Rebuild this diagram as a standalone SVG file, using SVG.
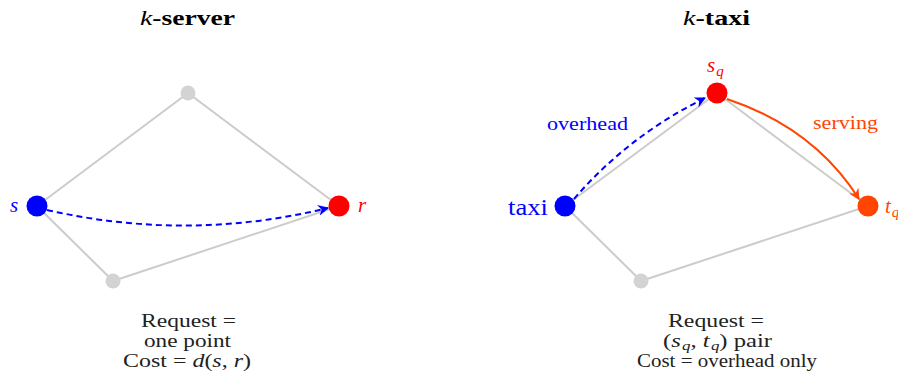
<svg xmlns="http://www.w3.org/2000/svg" width="898" height="372" viewBox="0 0 898 372">
  <style>
    .edge { stroke: #cccccc; stroke-width: 2; fill: none; }
    .ghost { fill: #d3d3d3; }
    .title { font-size: 21px; font-weight: bold; }
    .note { font-size: 19px; fill: #222; }
    .blue { fill: #0000ff; }
    .red { fill: #ff0000; }
    .orange { fill: #ff4500; }
    .dash { stroke: #0000ff; stroke-width: 2; stroke-dasharray: 6 4; fill: none; }
  </style>
  <defs>
    <marker id="arrBlue" viewBox="0 0 10 10" refX="9" refY="5" markerWidth="5.5" markerHeight="5.5" orient="auto" markerUnits="strokeWidth">
      <path d="M0,0 L10,5 L0,10 L3,5 Z" fill="#0000ff"/>
    </marker>
    <marker id="arrOrange" viewBox="0 0 10 10" refX="9" refY="5" markerWidth="5.5" markerHeight="5.5" orient="auto" markerUnits="strokeWidth">
      <path d="M0,0 L10,5 L0,10 L3,5 Z" fill="#ff4500"/>
    </marker>
  </defs>

  <g font-family="Liberation Serif, DejaVu Serif, serif">
  <!-- panel titles -->
  <text class="title" x="140" y="25" textLength="95" lengthAdjust="spacingAndGlyphs"><tspan font-style="italic" font-weight="normal">k</tspan>-server</text>
  <text class="title" x="683" y="25" textLength="67" lengthAdjust="spacingAndGlyphs"><tspan font-style="italic" font-weight="normal">k</tspan>-taxi</text>

  <g id="connectors">
    <!-- k-server graph edges -->
    <line class="edge" x1="37" y1="206" x2="188" y2="93"/>
    <line class="edge" x1="188" y1="93" x2="339" y2="206"/>
    <line class="edge" x1="37" y1="206" x2="113" y2="281"/>
    <line class="edge" x1="113" y1="281" x2="339" y2="206"/>
    <!-- k-taxi graph edges -->
    <line class="edge" x1="565" y1="206" x2="717" y2="93"/>
    <line class="edge" x1="717" y1="93" x2="868" y2="206"/>
    <line class="edge" x1="565" y1="206" x2="641" y2="281"/>
    <line class="edge" x1="641" y1="281" x2="868" y2="206"/>
    <!-- movement arrows -->
    <path class="dash" d="M47,210 Q188,242 328,208" marker-end="url(#arrBlue)"/>
    <path class="dash" d="M574,199 Q628,136 705,98" marker-end="url(#arrBlue)"/>
    <path d="M727,99 Q814,128 859,199" stroke="#ff4500" stroke-width="2" fill="none" marker-end="url(#arrOrange)"/>
  </g>

  <!-- k-server nodes -->
  <g id="s">
    <circle class="blue" cx="37" cy="206" r="10.5"/>
    <text class="blue" x="14" y="212" font-size="21" font-style="italic" text-anchor="middle">s</text>
  </g>
  <g id="server-top"><circle class="ghost" cx="188" cy="93" r="7.5"/></g>
  <g id="server-bottom"><circle class="ghost" cx="113" cy="281" r="7.5"/></g>
  <g id="r">
    <circle class="red" cx="339" cy="206" r="10.5"/>
    <text class="red" x="362" y="212" font-size="21" font-style="italic" text-anchor="middle">r</text>
  </g>

  <!-- k-taxi nodes -->
  <g id="taxi">
    <circle class="blue" cx="565" cy="206" r="10.5"/>
    <text class="blue" x="508" y="215" font-size="23" textLength="40" lengthAdjust="spacingAndGlyphs">taxi</text>
  </g>
  <g id="sq">
    <circle class="red" cx="717" cy="93" r="10.5"/>
    <text class="red" x="707" y="72" font-size="21" font-style="italic">s<tspan font-size="15" dx="1" dy="4">q</tspan></text>
  </g>
  <g id="taxi-bottom"><circle class="ghost" cx="641" cy="281" r="7.5"/></g>
  <g id="tq">
    <circle class="orange" cx="868" cy="206" r="10.5"/>
    <text class="orange" x="885" y="213" font-size="21" font-style="italic">t<tspan font-size="15" dx="1" dy="4">q</tspan></text>
  </g>

  <!-- edge labels -->
  <text class="blue" x="547" y="130" font-size="18" textLength="81" lengthAdjust="spacingAndGlyphs">overhead</text>
  <text class="orange" x="813" y="129" font-size="18" textLength="65" lengthAdjust="spacingAndGlyphs">serving</text>

  <!-- captions -->
  <text class="note" x="141" y="327" textLength="95" lengthAdjust="spacingAndGlyphs">Request =</text>
  <text class="note" x="144" y="347" textLength="87" lengthAdjust="spacingAndGlyphs">one point</text>
  <text class="note" x="123" y="367" textLength="128" lengthAdjust="spacingAndGlyphs">Cost = <tspan font-style="italic">d</tspan>(<tspan font-style="italic">s</tspan>, <tspan font-style="italic">r</tspan>)</text>
  <text class="note" x="668" y="327" textLength="96" lengthAdjust="spacingAndGlyphs">Request =</text>
  <text class="note" x="663" y="347" textLength="109" lengthAdjust="spacingAndGlyphs">(<tspan font-style="italic">s</tspan><tspan font-size="13" dx="1" dy="3" font-style="italic">q</tspan><tspan dy="-3">, </tspan><tspan font-style="italic">t</tspan><tspan font-size="13" dx="1" dy="3" font-style="italic">q</tspan><tspan dy="-3">) pair</tspan></text>
  <text class="note" x="637" y="367" textLength="180" lengthAdjust="spacingAndGlyphs">Cost = overhead only</text>
  </g>
</svg>
